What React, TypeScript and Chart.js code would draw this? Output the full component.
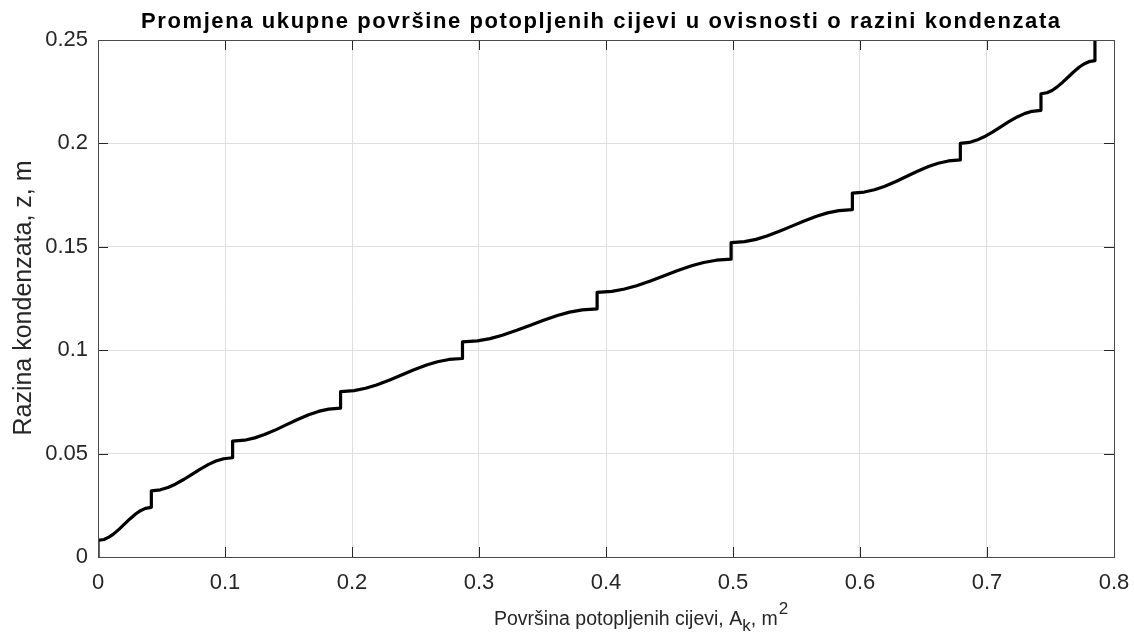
import React, { useEffect, useRef } from 'react';
import { Chart, registerables } from 'chart.js';

Chart.register(...registerables);

// Submerged tube surface area A_k (m^2) — x values
const surfaceArea = [
  0,
  0, 0.00465, 0.0086, 0.0124, 0.0169, 0.021, 0.0251, 0.0296, 0.0334, 0.03735, 0.042,
  0.042, 0.0491, 0.0551, 0.0609, 0.0678, 0.074, 0.0802, 0.0871, 0.0929, 0.0989, 0.106,
  0.106, 0.1154, 0.1234, 0.1311, 0.1403, 0.1485, 0.1567, 0.1659, 0.1736, 0.1816, 0.191,
  0.191, 0.2016, 0.2107, 0.2193, 0.2297, 0.239, 0.2483, 0.2587, 0.2673, 0.2764, 0.287,
  0.287, 0.2987, 0.3087, 0.3183, 0.3297, 0.34, 0.3503, 0.3617, 0.3713, 0.3813, 0.393,
  0.393, 0.4047, 0.4146, 0.4241, 0.4355, 0.4458, 0.456, 0.4674, 0.4769, 0.4868, 0.4985,
  0.4985, 0.5091, 0.5181, 0.5267, 0.537, 0.5463, 0.5555, 0.5658, 0.5744, 0.5834, 0.594,
  0.594, 0.6034, 0.6114, 0.6191, 0.6283, 0.6365, 0.6448, 0.6539, 0.6616, 0.6696, 0.679,
  0.679, 0.686, 0.692, 0.6978, 0.7046, 0.7108, 0.7169, 0.7238, 0.7295, 0.7355, 0.7425,
  0.7425, 0.7472, 0.7512, 0.755, 0.7596, 0.7638, 0.7679, 0.7725, 0.7763, 0.7803, 0.785,
  0.785,
];

// Condensate level z (m) — y values
const condensateLevel = [
  0,
  0.008, 0.00848, 0.0096, 0.0112, 0.0136, 0.016, 0.0184, 0.0208, 0.0224, 0.02352, 0.024,
  0.032, 0.03248, 0.0336, 0.0352, 0.0376, 0.04, 0.0424, 0.0448, 0.0464, 0.04752, 0.048,
  0.056, 0.05648, 0.0576, 0.0592, 0.0616, 0.064, 0.0664, 0.0688, 0.0704, 0.07152, 0.072,
  0.08, 0.08048, 0.0816, 0.0832, 0.0856, 0.088, 0.0904, 0.0928, 0.0944, 0.09552, 0.096,
  0.104, 0.10448, 0.1056, 0.1072, 0.1096, 0.112, 0.1144, 0.1168, 0.1184, 0.11952, 0.12,
  0.128, 0.12848, 0.1296, 0.1312, 0.1336, 0.136, 0.1384, 0.1408, 0.1424, 0.14352, 0.144,
  0.152, 0.15248, 0.1536, 0.1552, 0.1576, 0.16, 0.1624, 0.1648, 0.1664, 0.16752, 0.168,
  0.176, 0.17648, 0.1776, 0.1792, 0.1816, 0.184, 0.1864, 0.1888, 0.1904, 0.19152, 0.192,
  0.2, 0.20048, 0.2016, 0.2032, 0.2056, 0.208, 0.2104, 0.2128, 0.2144, 0.21552, 0.216,
  0.224, 0.22448, 0.2256, 0.2272, 0.2296, 0.232, 0.2344, 0.2368, 0.2384, 0.23952, 0.24,
  0.25,
];

const xTicks = [0, 0.1, 0.2, 0.3, 0.4, 0.5, 0.6, 0.7, 0.8];
const xTickLabels = ['0', '0.1', '0.2', '0.3', '0.4', '0.5', '0.6', '0.7', '0.8'];
const yTicks = [0, 0.05, 0.1, 0.15, 0.2, 0.25];
const yTickLabels = ['0', '0.05', '0.1', '0.15', '0.2', '0.25'];

const chartTitle = 'Promjena ukupne površine potopljenih cijevi u ovisnosti o razini kondenzata';
const yAxisTitle = 'Razina kondenzata, z, m';
const xAxisTitleMain = 'Površina potopljenih cijevi, A';
const xAxisTitleSub = 'k';
const xAxisTitleMid = ', m';
const xAxisTitleSup = '2';

const FONT = '"Liberation Sans", Arial, Helvetica, sans-serif';
const TEXT = '#262626';

const matlabPlugin = {
  id: 'matlabBox',
  afterDraw(chart: any) {
    const { ctx, chartArea } = chart;
    const { left, right, top, bottom } = chartArea;
    const xs = chart.scales.x;
    const ys = chart.scales.y;
    ctx.save();
    // inside ticks
    ctx.strokeStyle = '#262626';
    ctx.lineWidth = 1;
    const tl = 10;
    ctx.beginPath();
    xTicks.forEach((v) => {
      const px = Math.round(xs.getPixelForValue(v)) + 0.5;
      ctx.moveTo(px, bottom);
      ctx.lineTo(px, bottom - tl);
      ctx.moveTo(px, top);
      ctx.lineTo(px, top + tl);
    });
    yTicks.forEach((v) => {
      const py = Math.round(ys.getPixelForValue(v)) + 0.5;
      ctx.moveTo(left, py);
      ctx.lineTo(left + tl, py);
      ctx.moveTo(right, py);
      ctx.lineTo(right - tl, py);
    });
    ctx.stroke();
    // box
    ctx.strokeStyle = '#4a4a4a';
    ctx.strokeRect(Math.round(left) + 0.5, Math.round(top) + 0.5, Math.round(right - left), Math.round(bottom - top));

    // title
    ctx.fillStyle = '#000000';
    ctx.font = `bold 22px ${FONT}`;
    ctx.textAlign = 'left';
    ctx.textBaseline = 'alphabetic';
    (ctx as any).letterSpacing = '1.6px';
    ctx.fillText(chartTitle, 141, 28);
    (ctx as any).letterSpacing = '0px';

    // y axis title
    ctx.fillStyle = TEXT;
    ctx.font = `25px ${FONT}`;
    ctx.save();
    ctx.translate(31, 298);
    ctx.rotate(-Math.PI / 2);
    ctx.textAlign = 'center';
    ctx.fillText(yAxisTitle, 0, 0);
    ctx.restore();

    // x axis title with sub/superscript
    ctx.textAlign = 'left';
    let x = 494;
    const base = 625;
    ctx.font = `19.5px ${FONT}`;
    ctx.fillText(xAxisTitleMain, x, base);
    x += ctx.measureText(xAxisTitleMain).width;
    ctx.font = `17px ${FONT}`;
    ctx.fillText(xAxisTitleSub, x, base + 6);
    x += ctx.measureText(xAxisTitleSub).width;
    ctx.font = `19.5px ${FONT}`;
    ctx.fillText(xAxisTitleMid, x, base);
    x += ctx.measureText(xAxisTitleMid).width;
    ctx.font = `17px ${FONT}`;
    ctx.fillText(xAxisTitleSup, x + 1, base - 11);
    ctx.restore();
  },
};

export default function App() {
  const ref = useRef<HTMLCanvasElement | null>(null);
  useEffect(() => {
    if (!ref.current) return;
    const points = surfaceArea.map((x, i) => ({ x, y: condensateLevel[i] }));
    const chart = new Chart(ref.current, {
      type: 'line',
      data: {
        datasets: [
          {
            data: points,
            borderColor: '#000000',
            borderWidth: 3.2,
            pointRadius: 0,
            tension: 0,
            fill: false,
            borderJoinStyle: 'round',
          },
        ],
      },
      options: {
        animation: false,
        responsive: false,
        events: [],
        layout: { padding: { left: 0, right: 20, top: 40, bottom: 0 } },
        plugins: { legend: { display: false }, tooltip: { enabled: false }, title: { display: false } },
        scales: {
          x: {
            type: 'linear',
            min: 0,
            max: 0.8,
            afterBuildTicks: (s: any) => {
              s.ticks = xTicks.map((v) => ({ value: v }));
            },
            afterFit: (s: any) => {
              s.height = 87;
              s.paddingLeft = 0;
              s.paddingRight = 0;
            },
            ticks: {
              autoSkip: false,
              maxRotation: 0,
              padding: 13,
              color: TEXT,
              font: { family: FONT, size: 22 },
              callback: (_v: any, i: number) => xTickLabels[i],
            },
            grid: { color: '#dfdfdf', drawTicks: false, lineWidth: 1 },
            border: { display: false },
          },
          y: {
            type: 'linear',
            min: 0,
            max: 0.25,
            afterBuildTicks: (s: any) => {
              s.ticks = yTicks.map((v) => ({ value: v }));
            },
            afterFit: (s: any) => {
              s.width = 98;
              s.paddingTop = 0;
              s.paddingBottom = 0;
            },
            ticks: {
              autoSkip: false,
              padding: 10,
              color: TEXT,
              font: { family: FONT, size: 22 },
              callback: (_v: any, i: number) => yTickLabels[i],
            },
            grid: { color: '#dfdfdf', drawTicks: false, lineWidth: 1 },
            border: { display: false },
          },
        },
      },
      plugins: [matlabPlugin],
    } as any);
    return () => chart.destroy();
  }, []);
  return (
    <div style={{ position: 'fixed', left: 0, top: 0, width: 1134, height: 644, background: '#fff' }}>
      <canvas ref={ref} width={1134} height={644} style={{ display: 'block' }} />
    </div>
  );
}
